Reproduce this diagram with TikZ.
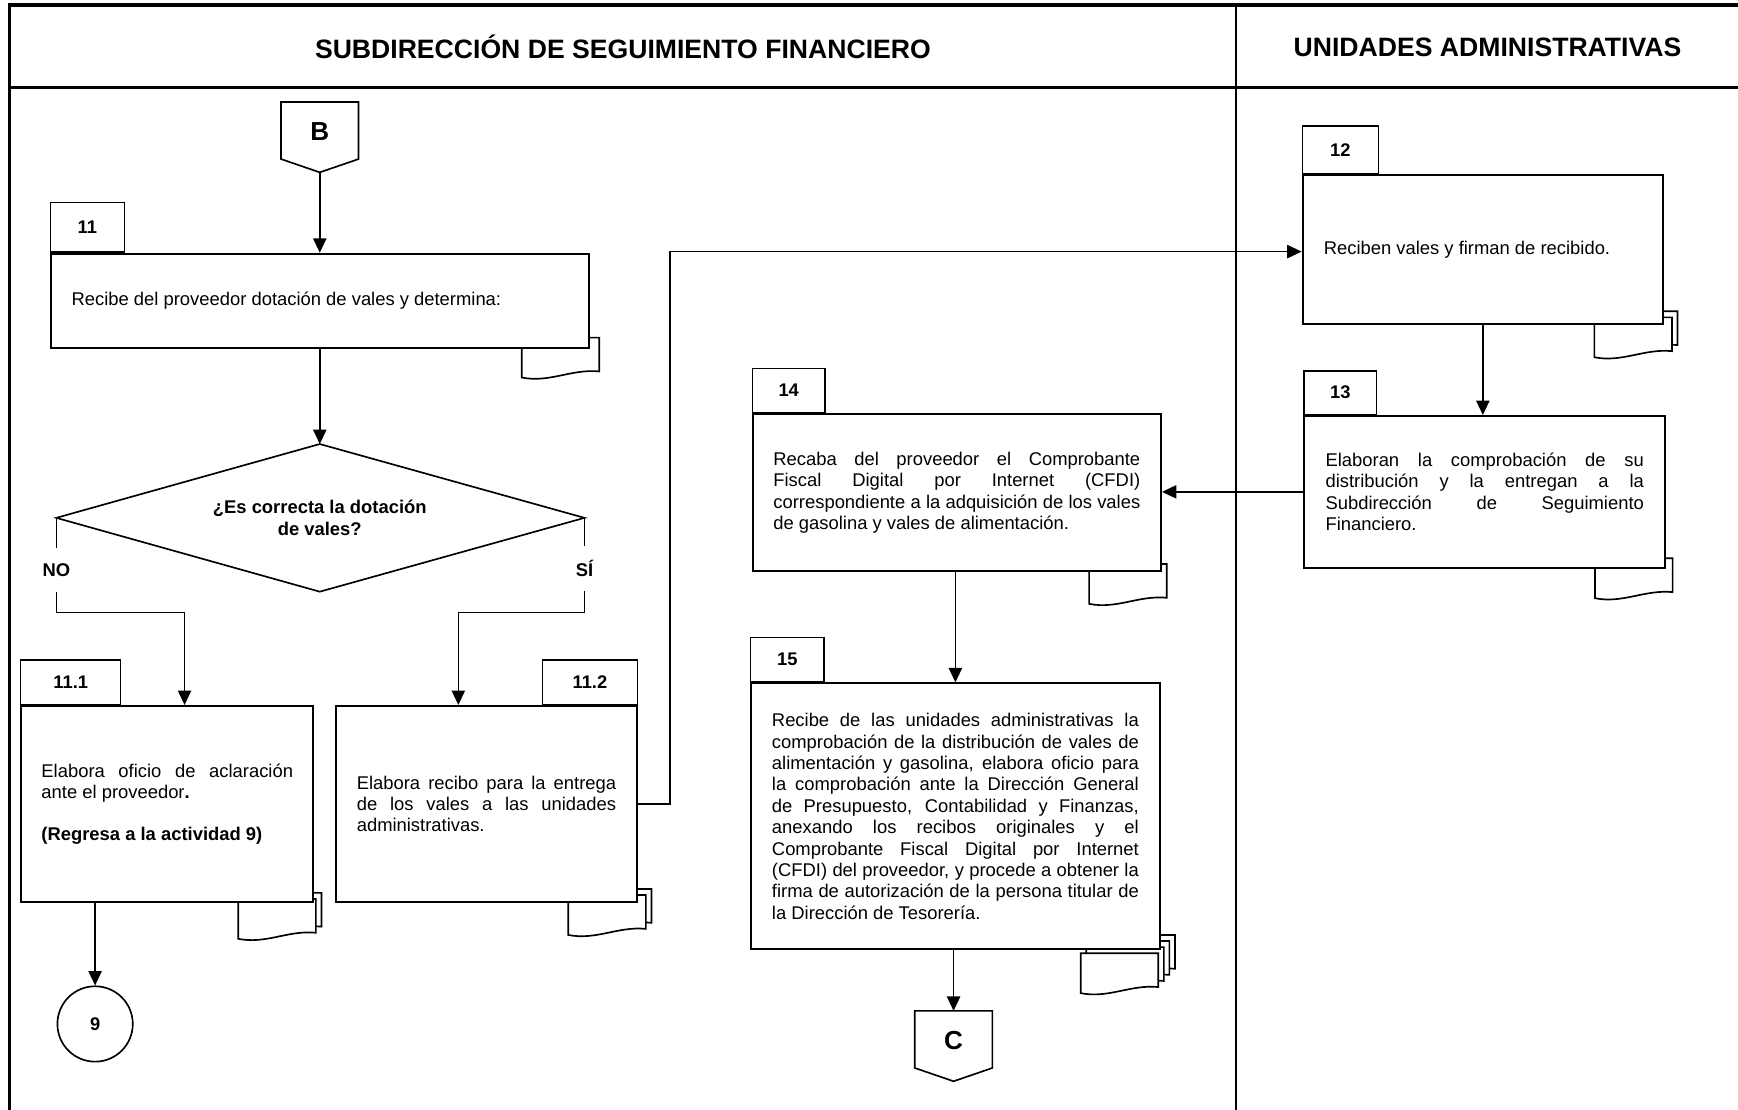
\documentclass[tikz,border=0pt]{standalone}
\usepackage{fontspec}
\setmainfont{Liberation Sans}
\usetikzlibrary{arrows.meta,shapes.geometric,calc}

\newcommand\bodyfont{\fontsize{16.6}{19.3}\selectfont}
\newcommand\jtext[2]{\parbox{#1}{\bodyfont\hyphenpenalty=10000\exhyphenpenalty=10000\relax #2}}

\tikzset{
  frameline/.style={line width=3pt},
  laneline/.style={line width=2.2pt},
  actbox/.style={draw, line width=1.8pt, fill=white, inner sep=0pt, anchor=north west},
  tabbox/.style={draw, line width=1.2pt, fill=white, inner sep=0pt, font=\fontsize{16.5}{19}\selectfont\bfseries},
  docsty/.style={draw, line width=1.5pt, fill=white},
  conn/.style={line width=1.3pt},
  arr/.style={conn, -{Triangle[length=13pt,width=12pt]}},
  hdr/.style={font=\fontsize{24}{28}\selectfont\bfseries, inner sep=0pt},
  lbl/.style={font=\fontsize{16.6}{19.3}\selectfont\bfseries, inner sep=0pt},
  decshape/.style={draw, line width=1.5pt},
  dectext/.style={inner sep=0pt, align=center, font=\fontsize{16.6}{19.7}\selectfont\bfseries},
  term/.style={circle, draw, line width=1.5pt, minimum size=68pt, inner sep=0pt, font=\fontsize{16.5}{19}\selectfont\bfseries},
  offp/.style={draw, line width=1.5pt, fill=white},
  offlbl/.style={font=\fontsize{23.5}{28}\selectfont\bfseries, inner sep=0pt},
}

% stack of documents: front left x, front top y, number of extra docs behind
\newcommand\docstack[3]{%
  \foreach \dk in {#3,...,0}{%
    \begin{scope}[shift={(#1+5*\dk,#2-5.5*\dk)}]
      \path[docsty] (0,0) -- (70,0) -- (70,30.5) .. controls (45,28) and (25,41) .. (0,36) -- cycle;
    \end{scope}}}

% off-page connector: name, centre x, top y, label
\newcommand\offpage[4]{%
  \path[offp] (#2-35,#3) -- (#2+35,#3) -- (#2+35,#3+51.5) -- (#2,#3+63.5) -- (#2-35,#3+51.5) -- cycle;
  \node[offlbl] (#1) at (#2,#3+26.5) {#4};
  \coordinate (#1tip) at (#2,#3+63.5);
  \coordinate (#1top) at (#2,#3);}

\begin{document}
\begin{tikzpicture}[x=1pt,y=-1pt]
\useasboundingbox (0,0) rectangle (1568,1001);

% frame and lanes
\draw[frameline] (8.5,1001) -- (8.5,4.5) -- (1568,4.5);
\draw[frameline] (8.5,79) -- (1568,79);
\draw[laneline] (1115,4.5) -- (1115,1001);
\node[hdr] (h1) at (562,42.5) {SUBDIRECCIÓN DE SEGUIMIENTO FINANCIERO};
\node[hdr] (h2) at (1342,42.5) {UNIDADES ADMINISTRATIVAS};

% documents (behind boxes)
\docstack{470.7}{304.6}{0}
\docstack{215}{811}{1}
\docstack{512.7}{807.5}{1}
\docstack{1438.4}{286.3}{1}
\docstack{1439}{503.7}{0}
\docstack{982.6}{508.8}{0}
\docstack{975}{860}{3}

% activity boxes
\node[actbox, minimum width=485.6pt, minimum height=84.8pt] (b11) at (44.9,228)
  {\jtext{448pt}{Recibe del proveedor dotación de vales y determina:}};
\node[tabbox, anchor=south west, minimum width=66.6pt, minimum height=45pt] (t11) at (b11.north west) {11};

% decision
\coordinate (decN) at (288.5,400.6);
\coordinate (decS) at (288.5,533.8);
\coordinate (decW) at (50.8,467.2);
\coordinate (decE) at (527.3,467.2);
\draw[decshape] (decN) -- (decE) -- (decS) -- (decW) -- cycle;
\node[dectext] (dec) at (288.5,467.2) {¿Es correcta la dotación\\de vales?};

\node[actbox, minimum width=263.8pt, minimum height=176.9pt] (b111) at (18.1,636)
  {\jtext{227pt}{Elabora oficio de aclaración\linebreak ante el proveedor\textbf{.}\par\vspace{18.3pt}\textbf{(Regresa a la actividad 9)}}};
\node[tabbox, anchor=south west, minimum width=90.3pt, minimum height=40pt] (t111) at (b111.north west) {11.1};

\node[actbox, minimum width=272pt, minimum height=176.9pt] (b112) at (302,636)
  {\jtext{234pt}{Elabora recibo para la entrega\linebreak de los vales a las unidades\linebreak administrativas.}};
\node[tabbox, anchor=south east, minimum width=86pt, minimum height=40pt] (t112) at (b112.north east) {11.2};

\node[term] (c9) at (85.8,923.8) {9};

\node[actbox, minimum width=325.2pt, minimum height=134.1pt] (b12) at (1174.3,157)
  {\jtext{287pt}{Reciben vales y firman de recibido.}};
\node[tabbox, anchor=south west, minimum width=68.7pt, minimum height=42.7pt] (t12) at (b12.north west) {12};

\node[actbox, minimum width=325.4pt, minimum height=136.9pt] (b13) at (1175.9,374.4)
  {\jtext{287.2pt}{Elaboran la comprobación de su\linebreak distribución y la entregan a la\linebreak Subdirección de Seguimiento\linebreak Financiero.}};
\node[tabbox, anchor=south west, minimum width=65.5pt, minimum height=39.1pt] (t13) at (b13.north west) {13};

\node[actbox, minimum width=368.3pt, minimum height=141.4pt] (b14) at (678.2,372.9)
  {\jtext{331pt}{Recaba del proveedor el Comprobante\linebreak Fiscal Digital por Internet (CFDI)\linebreak correspondiente a la adquisición de los vales\linebreak de gasolina y vales de alimentación.}};
\node[tabbox, anchor=south west, minimum width=65.5pt, minimum height=39.9pt] (t14) at (b14.north west) {14};

\node[actbox, minimum width=368.7pt, minimum height=240pt] (b15) at (676.7,615.6)
  {\jtext{331pt}{Recibe de las unidades administrativas la\linebreak comprobación de la distribución de vales de\linebreak alimentación y gasolina, elabora oficio para\linebreak la comprobación ante la Dirección General\linebreak de Presupuesto, Contabilidad y Finanzas,\linebreak anexando los recibos originales y el\linebreak Comprobante Fiscal Digital por Internet\linebreak (CFDI) del proveedor, y procede a obtener la\linebreak firma de autorización de la persona titular de\linebreak la Dirección de Tesorería.}};
\node[tabbox, anchor=south west, minimum width=66.1pt, minimum height=39.7pt] (t15) at (b15.north west) {15};

% off-page connectors
\offpage{B}{288.5}{92}{B}
\offpage{C}{860.3}{912}{C}

% decision labels
\node[lbl, minimum height=40pt] (no) at ($(decW)+(0,47)$) {NO};
\node[lbl, minimum height=40pt] (si) at ($(decE)+(0,46)$) {SÍ};
\coordinate (nobend) at (166.5,552.7);
\coordinate (sibend) at (413.5,552.7);
\coordinate (riser) at (604.5,227);

% connectors
\draw[arr] (Btip) -- (Btip |- b11.north);
\draw[arr] (decN |- b11.south) -- (decN);
\draw[conn] (decW) -- (no.north);
\draw[arr] (no.south) |- (nobend) -- (nobend |- b111.north);
\draw[conn] (decE) -- (si.north);
\draw[arr] (si.south) |- (sibend) -- (sibend |- b112.north);
\draw[arr] (c9.north |- b111.south) -- (c9.north);
\draw[arr] (b112.east) -| (riser) -- (riser -| b12.west);
\draw[arr] (b12.south) -- (b12.south |- b13.north);
\draw[arr] (b13.west) -- (b13.west -| b14.east);
\draw[arr] (b15.north |- b14.south) -- (b15.north);
\draw[arr] (Ctop |- b15.south) -- (Ctop);
\end{tikzpicture}
\end{document}
